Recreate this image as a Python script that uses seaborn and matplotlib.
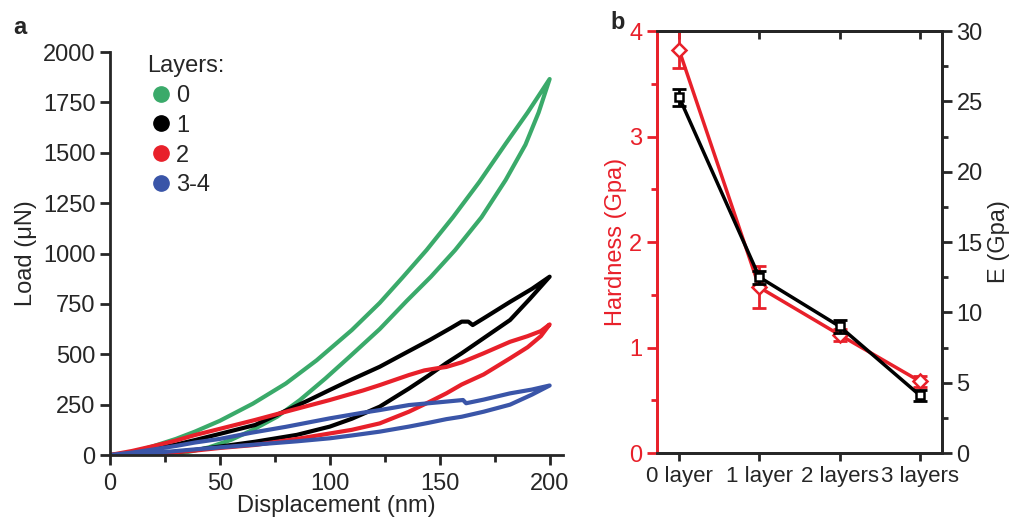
import numpy as np
import pandas as pd
import matplotlib
matplotlib.use("Agg")
import matplotlib.pyplot as plt
from matplotlib.lines import Line2D
import seaborn as sns

# ---- panel a: load / displacement (loading then unloading path) ----
layer_names = ["0", "1", "2", "3-4"]
layer_colors = ["#3aaa6a", "#000000", "#e8202a", "#3a55a8"]

disp_0 = [0, 10, 20, 30, 38.6, 50, 65, 80, 94, 110, 122.7, 133, 144, 156, 168, 180, 190, 200,
          195, 189, 180, 169, 157, 146, 135, 122.7, 109, 98, 86.4, 76, 65, 55, 45, 38.6, 32, 26]
load_0 = [0, 12, 45, 80, 116, 170, 255, 355, 470, 620, 755, 880, 1017, 1180, 1355, 1545, 1700, 1866,
          1700, 1540, 1365, 1180, 1017, 885, 765, 625, 488, 380, 273, 190, 125, 75, 38, 22, 8, 0]

disp_1 = [0, 10, 20, 30, 38.6, 50, 66, 80, 90, 100, 110, 122.7, 135, 145.5, 155, 160, 163, 165,
          172, 182, 192, 200,
          191, 182, 170, 160, 153, 145, 136, 122.7, 110, 100, 85, 66, 50, 38.6, 25, 15]
load_1 = [0, 10, 30, 52, 74, 105, 149, 220, 270, 323, 375, 438, 510, 571, 630, 662, 662, 645,
          692, 760, 825, 885,
          775, 670, 580, 505, 456, 395, 330, 240, 180, 141, 100, 66, 42, 25, 10, 0]

disp_2 = [0, 10, 20, 30, 38.6, 50, 66, 80, 100, 115, 122.7, 136, 143, 148.5, 153, 160, 170,
          182, 190, 196, 200,
          196, 190, 182, 170, 160, 153, 145, 136, 122.7, 110, 100, 85, 66, 50, 38.6, 25, 10]
load_2 = [0, 20, 45, 72, 99, 130, 174, 215, 273, 320, 347, 397, 420, 430, 437, 460, 505,
          562, 590, 615, 648,
          590, 535, 480, 400, 350, 306, 262, 215, 157, 125, 107, 80, 50, 35, 22, 10, 0]

disp_3 = [0, 10, 20, 30, 38.6, 50, 64, 80, 100, 115, 122.7, 136, 150, 160.6, 162, 170, 182,
          192, 200,
          192, 182, 170, 160, 153, 145, 136, 122.7, 110, 100, 85, 64, 50, 38.6, 25, 10]
load_3 = [0, 12, 28, 45, 62, 80, 110, 140, 182, 210, 223, 248, 262, 273, 257, 275, 306,
          325, 345,
          300, 250, 215, 190, 178, 160, 141, 116, 97, 83, 68, 50, 38, 28, 15, 0]

# ---- panel b: hardness and modulus ----
categories = ["0 layer", "1 layer", "2 layers", "3 layers"]
hardness = [3.82, 1.57, 1.12, 0.68]
hardness_err_lo = [0.17, 0.20, 0.06, 0.05]
hardness_err_hi = [0.18, 0.20, 0.06, 0.05]
modulus = [25.3, 12.5, 9.0, 4.1]
modulus_err = [0.6, 0.45, 0.45, 0.4]

RED = "#e8202a"
FS = 17

sns.set_style("ticks")
plt.rcParams["font.family"] = ["Liberation Sans", "DejaVu Sans"]
plt.rcParams["axes.linewidth"] = 2

fig = plt.figure(figsize=(10.13, 5.25), dpi=100)
ax_a = fig.add_axes([0.1086, 0.1333, 0.447, 0.7676])
ax_b = fig.add_axes([0.6486, 0.1371, 0.2813, 0.8038])

frames = []
for name, d, l in zip(layer_names,
                      [disp_0, disp_1, disp_2, disp_3],
                      [load_0, load_1, load_2, load_3]):
    frames.append(pd.DataFrame({"disp": d, "load": l, "layers": name}))
curves = pd.concat(frames, ignore_index=True)

sns.lineplot(data=curves, x="disp", y="load", hue="layers",
             palette=layer_colors, hue_order=layer_names, sort=False,
             estimator=None, lw=3, legend=False, ax=ax_a)

ax_a.set_xlim(0, 206)
ax_a.set_ylim(0, 2000)
ax_a.set_xticks([0, 50, 100, 150, 200])
ax_a.set_xticks([25, 75, 125, 175], minor=True)
ax_a.set_yticks(np.arange(0, 2001, 250))
ax_a.tick_params(axis="both", which="major", labelsize=FS, width=2, length=7)
ax_a.tick_params(axis="x", which="major", pad=6)
ax_a.tick_params(axis="x", which="minor", width=2, length=5)
ax_a.set_xlabel("Displacement (nm)", fontsize=FS, labelpad=0)
ax_a.set_ylabel("Load (μN)", fontsize=FS, labelpad=4)
sns.despine(ax=ax_a)

handles = [Line2D([], [], ls="none", marker="o", markersize=11,
                  color=c, label=n) for n, c in zip(layer_names, layer_colors)]
leg = ax_a.legend(handles=handles, title="Layers:", loc="upper left",
                  bbox_to_anchor=(0.034, 1.045), frameon=False, fontsize=FS,
                  title_fontsize=FS, handletextpad=0.05, labelspacing=0.33,
                  handlelength=1.2)
leg._legend_box.align = "left"

# ---- panel b ----
xpos = np.arange(len(categories))
sns.lineplot(x=xpos, y=hardness, color=RED, lw=2.5, marker="D",
             markersize=7, markerfacecolor="white", markeredgecolor=RED,
             markeredgewidth=1.8, ax=ax_b, zorder=3)
ax_b.errorbar(xpos, hardness, yerr=[hardness_err_lo, hardness_err_hi],
              fmt="none", ecolor=RED, elinewidth=2, capsize=5, capthick=2,
              zorder=2)
ax_b.set_xlim(-0.275, 3.275)
ax_b.set_ylim(0, 4)
ax_b.set_xticks(xpos)
ax_b.set_xticklabels(categories)
ax_b.set_yticks([0, 1, 2, 3, 4])
ax_b.set_yticks(np.arange(0.5, 4, 1), minor=True)
ax_b.tick_params(axis="x", labelsize=16, width=2, length=6)
ax_b.tick_params(axis="y", which="major", labelsize=FS, width=2, length=7,
                 colors=RED)
ax_b.tick_params(axis="y", which="minor", width=2, length=4, colors=RED)
ax_b.set_ylabel("Hardness (Gpa)", fontsize=FS, color=RED, labelpad=2)
ax_b.spines["left"].set_color(RED)

top = ax_b.secondary_xaxis("top")
top.set_xticks(xpos)
top.tick_params(direction="in", width=2, length=6, labeltop=False)
top.spines["top"].set_linewidth(2)

ax_e = ax_b.twinx()
sns.lineplot(x=xpos, y=modulus, color="black", lw=2.5, marker="s",
             markersize=6, markerfacecolor="white", markeredgecolor="black",
             markeredgewidth=1.8, ax=ax_e, zorder=3)
ax_e.errorbar(xpos, modulus, yerr=modulus_err, fmt="none", ecolor="black",
              elinewidth=2, capsize=5, capthick=2, zorder=2)
ax_e.set_ylim(0, 30)
ax_e.set_yticks(np.arange(0, 31, 5))
ax_e.set_yticks(np.arange(2.5, 30, 5), minor=True)
ax_e.tick_params(axis="y", which="major", labelsize=FS, width=2, length=7)
ax_e.tick_params(axis="y", which="minor", width=2, length=4)
ax_e.set_ylabel("E (Gpa)", fontsize=FS, labelpad=4)
ax_e.spines["left"].set_color(RED)

fig.text(0.013, 0.935, "a", fontsize=FS, fontweight="bold")
fig.text(0.603, 0.945, "b", fontsize=FS, fontweight="bold")

fig.savefig("out.png", dpi=100)
